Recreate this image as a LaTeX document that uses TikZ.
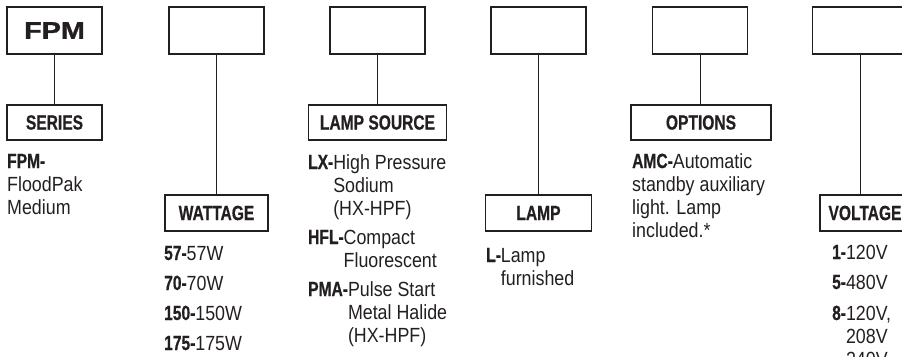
\documentclass[tikz,border=0pt]{standalone}
\usepackage{fontspec}
\setmainfont{Liberation Sans}[FakeStretch=0.87]
\newfontfamily\cnd{Liberation Sans}[FakeStretch=0.76, FakeBold=0.6]
\newfontfamily\wdf{Liberation Sans}[FakeStretch=1.2, FakeBold=1.2]
\usepackage{xcolor}
\usetikzlibrary{positioning}
\definecolor{ink}{HTML}{231F20}
\newcommand{\code}[1]{{\cnd\bfseries #1}}
\newcommand{\entry}[2]{\code{#1}\begin{tabular}[t]{@{}l@{}}#2\end{tabular}}

\begin{document}
\begin{tikzpicture}[
    x=1pt, y=-1pt,
    code box/.style={draw=ink, line width=1.2pt, minimum width=95pt, minimum height=47pt, inner sep=0pt},
    head box/.style={draw=ink, line width=1.2pt, minimum height=35pt, inner sep=0pt, text=ink, font=\cnd\bfseries\fontsize{20.5}{23}\selectfont},
    link/.style={draw=ink, line width=1pt},
    entry/.style={anchor=base west, inner sep=0pt, text=ink, font=\fontsize{20.5}{23}\selectfont}
]
\useasboundingbox (0,0) rectangle (902,356);
\clip (0,0) rectangle (902,356);

% Code boxes
\node[code box, text=ink, font=\wdf\bfseries\fontsize{24}{28}\selectfont] (fpm) at (54.5,30.5) {FPM};
\node[code box] (cwatt) at (216.5,30.5) {};
\node[code box] (csrc) at (377.5,30.5) {};
\node[code box] (clamp) at (538.5,30.5) {};
\node[code box] (copt) at (700,30.5) {};
\node[code box] (cvolt) at (860,30.5) {};

% Headings
\node[head box, minimum width=95pt] (series) at (54.5,122.5) {SERIES};
\node[head box, minimum width=103pt, minimum height=36pt] (watt) at (216.5,213) {WATTAGE};
\node[head box, minimum width=138pt] (src) at (377.5,122.5) {LAMP SOURCE};
\node[head box, minimum width=106pt, minimum height=36pt] (lamp) at (538.5,213) {LAMP};
\node[head box, minimum width=140pt] (opt) at (701,122.5) {OPTIONS};
\node[head box, minimum width=90pt, minimum height=36pt] (volt) at (865,213) {VOLTAGE};

% Connectors
\draw[link] (fpm.south) -- (fpm.south |- series.north);
\draw[link] (cwatt.south) -- (cwatt.south |- watt.north);
\draw[link] (csrc.south) -- (csrc.south |- src.north);
\draw[link] (clamp.south) -- (clamp.south |- lamp.north);
\draw[link] (copt.south) -- (copt.south |- opt.north);
\draw[link] (cvolt.south) -- (cvolt.south |- volt.north);

% Series
\node[entry] (s1) at (7,168) {\begin{tabular}[t]{@{}l@{}}\code{FPM-}\\FloodPak\\Medium\end{tabular}};

% Wattage
\node[entry] (w1) at (164,260) {\entry{57-}{57W}};
\node[entry] (w2) at (164,290) {\entry{70-}{70W}};
\node[entry] (w3) at (164,320) {\entry{150-}{150W}};
\node[entry] (w4) at (164,350) {\entry{175-}{175W}};

% Lamp source
\node[entry] (l1) at (308,169) {\entry{LX-}{High Pressure\\Sodium\\(HX-HPF)}};
\node[entry] (l2) at (308,244) {\entry{HFL-}{Compact\\Fluorescent}};
\node[entry] (l3) at (308,296) {\entry{PMA-}{Pulse Start\\Metal Halide\\(HX-HPF)}};

% Lamp
\node[entry] (m1) at (486,262) {\entry{L-}{Lamp\\furnished}};

% Options
\node[entry] (o1) at (632,168) {\begin{tabular}[t]{@{}l@{}}\code{AMC-}Automatic\\standby auxiliary\\light. Lamp\\included.*\end{tabular}};

% Voltage
\node[entry] (v1) at (832,259) {\entry{1-}{120V}};
\node[entry] (v2) at (832,289) {\entry{5-}{480V}};
\node[entry] (v3) at (832,320) {\entry{8-}{120V,\\208V\\240V}};
\end{tikzpicture}
\end{document}
